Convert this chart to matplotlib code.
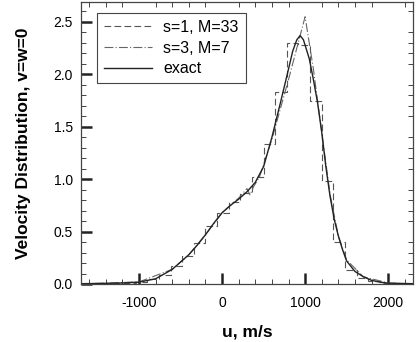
import numpy as np
import matplotlib
matplotlib.use("Agg")
import matplotlib.pyplot as plt
from matplotlib.ticker import MultipleLocator, FormatStrFormatter

plt.rcParams["font.family"] = ["Liberation Sans", "DejaVu Sans"]
plt.rcParams["axes.unicode_minus"] = False

# exact distribution
u_exact = [-1700, -1400, -1200, -1000, -800, -600, -400, -300, -200, -100, 0, 100, 200,
           300, 400, 500, 600, 700, 800, 850, 900, 940, 980, 1050, 1100, 1150, 1200,
           1250, 1300, 1350, 1400, 1450, 1500, 1600, 1700, 1800, 1900, 2000, 2300]
f_exact = [0.003, 0.006, 0.01, 0.018, 0.05, 0.14, 0.28, 0.37, 0.47, 0.58, 0.68, 0.75, 0.81,
           0.88, 0.97, 1.12, 1.40, 1.72, 2.05, 2.22, 2.33, 2.37, 2.33, 2.15, 1.95, 1.73, 1.45,
           1.12, 0.84, 0.62, 0.46, 0.33, 0.22, 0.12, 0.07, 0.035, 0.018, 0.008, 0.003]

# s=1, M=33 : piecewise constant (bin edges and heights)
hist_edges = [-2020 + 140 * i for i in range(34)]
hist_vals = [0.002, 0.003, 0.004, 0.005, 0.006, 0.009, 0.013, 0.02, 0.045, 0.09, 0.17,
             0.27, 0.39, 0.55, 0.68, 0.78, 0.87, 1.02, 1.34, 1.83, 2.30, 2.28, 1.75, 0.98,
             0.40, 0.13, 0.06, 0.025, 0.01, 0.005, 0.003, 0.002, 0.001]

# s=3, M=7
u_s3 = [-1700, -1000, -600, -400, -200, 0, 200, 300, 336, 380, 450, 600, 800, 1000,
        1100, 1200, 1300, 1400, 1500, 1700, 2000, 2300]
f_s3 = [0.0, 0.02, 0.14, 0.28, 0.47, 0.68, 0.82, 0.91, 0.85, 0.93, 1.02, 1.38, 1.95, 2.55,
        2.05, 1.45, 0.86, 0.46, 0.23, 0.07, 0.01, 0.0]

fig = plt.figure(figsize=(4.16, 3.42), dpi=100)
ax = fig.add_axes([0.1947, 0.1696, 0.7981, 0.8244])

ax.stairs(hist_vals, hist_edges, color="#555555", lw=0.8, linestyle=(0, (6, 3)),
          label="s=1, M=33")
ax.plot(u_s3, f_s3, color="#666666", lw=0.8, linestyle=(0, (8, 2, 1, 2)),
        label="s=3, M=7")
ax.plot(u_exact, f_exact, color="#222222", lw=1.0, label="exact")

ax.set_xlim(-1700, 2300)
ax.set_ylim(0, 2.69)
ax.xaxis.set_major_locator(MultipleLocator(1000))
ax.xaxis.set_minor_locator(MultipleLocator(200))
ax.yaxis.set_major_locator(MultipleLocator(0.5))
ax.yaxis.set_minor_locator(MultipleLocator(0.1))
ax.yaxis.set_major_formatter(FormatStrFormatter("%.1f"))

ax.tick_params(which="major", direction="in", length=8, width=1.8, color="#222222",
               labelsize=10, top=False, right=False)
ax.tick_params(axis="x", which="major", pad=9)
ax.tick_params(axis="y", which="major", pad=6)
ax.tick_params(which="minor", direction="in", length=3.6, width=0.7, color="#444444",
               top=True, right=True)
for sp in ax.spines.values():
    sp.set_color("#444444")
    sp.set_linewidth(0.9)

ax.set_xlabel("u, m/s", fontsize=12.5, fontweight="bold", labelpad=10)
ax.set_ylabel("Velocity Distribution, v=w=0", fontsize=12.5, fontweight="bold", labelpad=16)

leg = ax.legend(loc="upper left", bbox_to_anchor=(0.048, 0.962), borderaxespad=0,
                fontsize=11.5, handlelength=3.0, handletextpad=0.7, fancybox=False,
                framealpha=1, edgecolor="#444444", borderpad=0.45, labelspacing=0.35)
leg.get_frame().set_linewidth(0.8)

plt.savefig("out.png", dpi=100)
